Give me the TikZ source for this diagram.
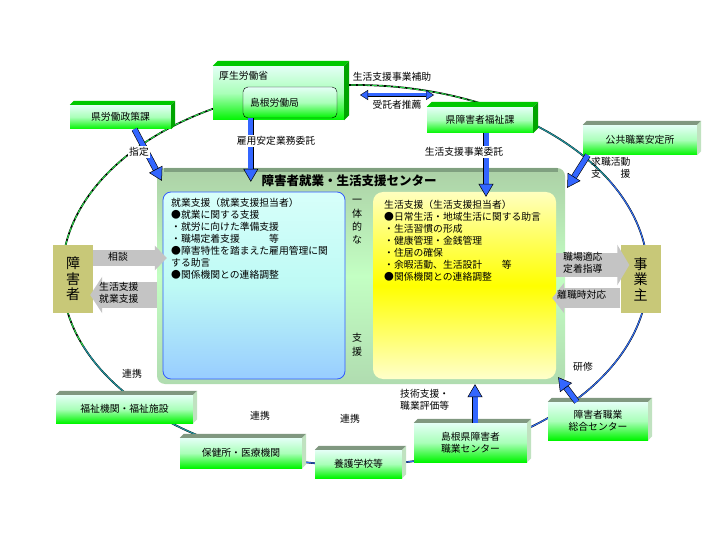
\documentclass[tikz,border=0pt]{standalone}
\usepackage{fontspec}
\setmainfont{Noto Sans CJK JP}
\usetikzlibrary{arrows.meta,positioning,calc}

\definecolor{arrowblue}{RGB}{51,102,255}
\definecolor{facetop}{RGB}{228,255,246}
\definecolor{facemid}{RGB}{170,255,185}
\definecolor{facebot}{RGB}{0,245,0}
\definecolor{lidgreen}{RGB}{0,200,0}
\definecolor{wallgreen}{RGB}{0,165,0}
\definecolor{lidgrey}{RGB}{128,152,128}
\definecolor{wallpale}{RGB}{192,226,192}
\definecolor{personTan}{RGB}{200,200,120}
\definecolor{arrowgrey}{RGB}{196,196,196}
\definecolor{ringgreen}{RGB}{40,210,70}
\definecolor{ringteal}{RGB}{30,150,160}
\definecolor{ringblue}{RGB}{50,110,240}
\definecolor{paneltop}{RGB}{172,208,166}
\definecolor{panelmid}{RGB}{195,255,195}
\definecolor{panelbot}{RGB}{176,220,176}
\definecolor{panelrim}{RGB}{128,160,128}
\definecolor{cyantop}{RGB}{215,255,250}
\definecolor{cyanmid}{RGB}{190,250,245}
\definecolor{skybot}{RGB}{152,205,255}
\definecolor{edgeblue}{RGB}{50,90,255}
\definecolor{paleyellow}{RGB}{255,255,190}
\definecolor{brightyellow}{RGB}{255,255,0}

% oblique lid and wall of a box node
\newcommand{\boxsides}[4]{%
  \fill[#3] (#1.north west) -- ([xshift=#2pt,yshift=#2pt]#1.north west)
    -- ([xshift=#2pt,yshift=#2pt]#1.north east) -- (#1.north east) -- cycle;
  \fill[#4] (#1.north east) -- ([xshift=#2pt,yshift=#2pt]#1.north east)
    -- ([xshift=#2pt,yshift=#2pt]#1.south east) -- (#1.south east) -- cycle;
}

\begin{document}
\begin{tikzpicture}[x=1pt, y=-1pt,
  txt/.style={font=\fontsize{9.8}{12}\selectfont, inner sep=0pt, align=left},
  gbox/.style={shade, top color=facetop, bottom color=facebot, middle color=facemid,
    inner sep=0pt, align=center, font=\fontsize{9.8}{12}\selectfont},
  person/.style={fill=personTan, inner sep=0pt, align=center,
    minimum width=40, minimum height=68, font=\fontsize{14}{15.5}\selectfont},
  panel/.style={shade, top color=paneltop, bottom color=panelbot, middle color=panelmid,
    rounded corners=8pt},
  shuugyouBox/.style={shade, top color=cyantop, bottom color=skybot, middle color=cyanmid,
    draw=edgeblue, line width=0.8pt, rounded corners=8pt},
  seikatsuBox/.style={shade, top color=paleyellow, bottom color=paleyellow!80!white,
    middle color=brightyellow, rounded corners=10pt},
  ringbase/.style={draw=black, line width=1.7pt},
  ring/.style={line width=1.1pt},
  fat/.style={line width=5pt, draw=arrowblue,
    preaction={draw=black, line width=6.2pt, -, shorten >=9pt},
    -{Triangle[length=13pt, width=15pt, color=black, fill=arrowblue, line width=0.5pt]}},
  twoway/.style={line width=3pt, draw=arrowblue,
    preaction={draw=black, line width=4pt, -, shorten >=6pt, shorten <=6pt},
    {Triangle[length=8pt, width=10pt, color=black, fill=arrowblue, line width=0.4pt]}-{Triangle[length=8pt, width=10pt, color=black, fill=arrowblue, line width=0.4pt]}},
  grayarr/.style 2 args={line width=#1, draw=arrowgrey, -{Triangle[length=12pt, width=#2]}}
]
  \path[fill=white, use as bounding box] (0,0) rectangle (720,540);

  % ring of partner agencies
  \coordinate (ringC) at (355,275);
  \draw[ringbase] (ringC) ellipse [x radius=293, y radius=190];
  \draw[ring, ringgreen, dash pattern=on 5pt off 2pt] (ringC) ++(158:293 and 190)
    arc[start angle=158, end angle=296, x radius=293, y radius=190];
  \draw[ring, ringteal] (ringC) ++(296:293 and 190)
    arc[start angle=296, end angle=330, x radius=293, y radius=190];
  \draw[ring, ringblue] (ringC) ++(330:293 and 190)
    arc[start angle=330, end angle=460, x radius=293, y radius=190];
  \draw[ring, ringteal] (ringC) ++(100:293 and 190)
    arc[start angle=100, end angle=158, x radius=293, y radius=190];

  % top agencies
  \node[gbox, minimum width=131, minimum height=54] (kousei) at (278.5,93) {};
  \boxsides{kousei}{5}{lidgreen}{wallgreen}
  \node[txt, anchor=north west] (kouseiLbl) at (219,71) {厚生労働省};
  \node[gbox, draw=black, rounded corners=5pt, minimum width=94, minimum height=31,
    text width=80, align=left] (roudoukyoku) at (290,102.5) {島根労働局};
  \node[gbox, minimum width=106, minimum height=26] (fukushika) at (480,120) {県障害者福祉課};
  \boxsides{fukushika}{5}{lidgreen}{wallgreen}
  \node[gbox, minimum width=101, minimum height=24] (rouseika) at (120.5,117) {県労働政策課};
  \boxsides{rouseika}{4}{lidgreen}{wallgreen}
  \node[gbox, minimum width=114, minimum height=30] (antei) at (640,140) {公共職業安定所};
  \boxsides{antei}{4}{lidgrey}{wallpale}

  % bottom agencies
  \node[gbox, minimum width=137, minimum height=28] (fukushiKikan) at (124.5,409) {福祉機関・福祉施設};
  \boxsides{fukushiKikan}{4}{lidgrey}{wallpale}
  \node[gbox, minimum width=122, minimum height=30] (hokenjo) at (241,453) {保健所・医療機関};
  \boxsides{hokenjo}{4}{lidgrey}{wallpale}
  \node[gbox, minimum width=87, minimum height=28] (yougo) at (358.5,464) {養護学校等};
  \boxsides{yougo}{4}{lidgrey}{wallpale}
  \node[gbox, minimum width=113, minimum height=39] (shokugyouC) at (470.5,442.5) {島根県障害者\\職業センター};
  \boxsides{shokugyouC}{4}{lidgrey}{wallpale}
  \node[gbox, minimum width=100, minimum height=38] (sougouC) at (598,421) {障害者職業\\総合センター};
  \boxsides{sougouC}{4}{lidgrey}{wallpale}

  % person and employer
  \node[person] (shougai) at (73,279) {障\\害\\者};
  \node[person] (jigyou) at (640.5,279) {事\\業\\主};

  % support centre
  \node[panel, minimum width=408, minimum height=216] (center) at (361,276) {};
  \fill[panelrim] ([xshift=7pt]center.north west) rectangle ([xshift=-7pt,yshift=-4pt]center.north east);
  \node[font=\bfseries\fontsize{12.5}{14}\selectfont, inner sep=0pt] (title) at (349,181) {障害者就業・生活支援センター};
  \node[shuugyouBox, minimum width=182, minimum height=187] (shuugyou) at (254,285.5) {};
  \node[seikatsuBox, minimum width=183, minimum height=187] (seikatsu) at (464.5,285.5) {};
  \node[txt, anchor=north west] (shuugyouTxt) at (171,198) {就業支援（就業支援担当者）\\
    ●就業に関する支援\\
    ・就労に向けた準備支援\\
    ・職場定着支援　　　等\\
    ●障害特性を踏まえた雇用管理に関\\
    する助言\\
    ●関係機関との連絡調整};
  \node[txt, anchor=north west] (seikatsuTxt) at (384,200) {生活支援（生活支援担当者）\\
    ●日常生活・地域生活に関する助言\\
    ・生活習慣の形成\\
    ・健康管理・金銭管理\\
    ・住居の確保\\
    ・余暇活動、生活設計　　等\\
    ●関係機関との連絡調整};
  \node[txt, align=center, font=\fontsize{10}{13.3}\selectfont] (ittai) at (357,222) {一\\体\\的\\な};
  \node[txt, align=center, font=\fontsize{10}{14}\selectfont] (shienV) at (357,345) {支\\援};

  % grey arrows with the person and the employer
  \coordinate (soudanS) at ([yshift=21pt]shougai.east);
  \draw[grayarr={16pt}{24pt}] (soudanS) -- ([xshift=10pt]center.west |- soudanS);
  \coordinate (shienE) at ([xshift=-3pt,yshift=-16pt]shougai.east);
  \draw[grayarr={26pt}{36pt}] (center.west |- shienE) -- (shienE);
  \coordinate (tekiouE) at ([xshift=9pt,yshift=14pt]jigyou.west);
  \draw[grayarr={24pt}{40pt}] (seikatsu.east |- tekiouE) -- (tekiouE);
  \coordinate (rishokuS) at ([yshift=-19pt]jigyou.west);
  \draw[grayarr={20pt}{30pt}] (rishokuS) -- ([xshift=-4pt]seikatsu.east |- rishokuS);
  \node[txt, anchor=west] (lblSoudan) at (108,257) {相談};
  \node[txt, anchor=north west] (lblShien) at (99,282) {生活支援\\就業支援};
  \node[txt, anchor=north west] (lblTekiou) at (563,252) {職場適応\\定着指導};
  \node[txt, anchor=west] (lblRishoku) at (557,295) {離職時対応};

  % blue arrows
  \draw[fat] ([xshift=8pt]roudoukyoku.south west) -- ([xshift=8pt,yshift=-14pt]roudoukyoku.south west |- center.north);
  \draw[fat] ([xshift=6pt]fukushika.south) -- ([xshift=6pt,yshift=-5pt]fukushika.south |- seikatsu.north);
  \draw[fat] ([xshift=14pt]rouseika.south) -- ([xshift=5pt,yshift=-13pt]center.north west);
  \draw[fat] ([xshift=5pt]antei.south west) -- ([xshift=2pt,yshift=-20pt]center.north east);
  \draw[fat] ([xshift=4.5pt]shokugyouC.north) -- ([xshift=4.5pt]shokugyouC.north |- center.south);
  \draw[fat] ([xshift=29pt]sougouC.north west) -- ([xshift=-7pt,yshift=7pt]center.south east);
  \coordinate (suisenL) at (360,95);
  \coordinate (suisenR) at (434,95);
  \draw[twoway] (suisenL) -- (suisenR);

  % labels
  \node[txt] (lblHojo) at (392,77) {生活支援事業補助};
  \node[txt] (lblSuisen) at (397,105) {受託者推薦};
  \node[txt, fill=white, inner sep=1pt] (lblKoyou) at (276,141) {雇用安定業務委託};
  \node[txt, fill=white, inner sep=1pt] (lblItaku) at (464,152) {生活支援事業委託};
  \node[txt, fill=white, inner sep=1pt] (lblShitei) at (139,152) {指定};
  \node[txt, anchor=north west] (lblKyushoku) at (591,157) {求職活動\\支　　援};
  \node[txt, anchor=north west] (lblGijutsu) at (400,389) {技術支援・\\職業評価等};
  \node[txt] (lblKenshu) at (583,367) {研修};
  \foreach \x/\y/\nm in {132/374/A, 260/416/B, 350/419/C}
    \node[txt] (renkei\nm) at (\x,\y) {連携};
\end{tikzpicture}
\end{document}
